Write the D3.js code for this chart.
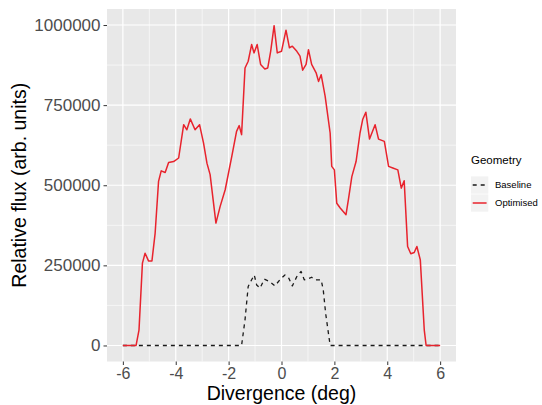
<!DOCTYPE html>
<html>
<head>
<meta charset="utf-8">
<script src="https://cdn.jsdelivr.net/npm/d3@7"></script>
<style>
  body { margin: 0; background: #fff; }
  text { font-family: "Liberation Sans", Arial, sans-serif; }
</style>
</head>
<body>
<svg width="542" height="405"></svg>
<script>
// values (divergence in deg, flux in arb. units)
const optX = [-6.0, -5.5, -5.39, -5.26, -5.16, -5.03, -4.9, -4.78, -4.65, -4.55, -4.4, -4.27, -4.08, -3.89,
  -3.7, -3.58, -3.45, -3.27, -3.1, -2.95, -2.82, -2.7, -2.48, -2.32, -2.13, -1.88, -1.7, -1.6, -1.51,
  -1.38, -1.26, -1.13, -1.04, -0.92, -0.79, -0.63, -0.52, -0.41, -0.28, -0.16, 0.0, 0.17, 0.3, 0.41,
  0.58, 0.7, 0.8, 0.93, 1.02, 1.14, 1.31, 1.4, 1.5, 1.65, 1.84, 1.9, 2.0, 2.09, 2.22, 2.44, 2.53, 2.66,
  2.82, 2.97, 3.07, 3.19, 3.33, 3.54, 3.67, 3.89, 4.05, 4.21, 4.4, 4.53, 4.64, 4.77, 4.89, 5.02, 5.12,
  5.25, 5.4, 5.47, 6.0];
const optY = [0, 0, 48000, 257000, 288000, 264000, 264000, 350000, 512000, 545000, 540000, 571000, 574000, 585000,
  689000, 673000, 707000, 673000, 689000, 632000, 569000, 533000, 382000, 434000, 486000, 590000, 668000, 686000, 658000,
  866000, 887000, 939000, 913000, 939000, 877000, 863000, 866000, 918000, 998000, 913000, 918000, 984000, 929000, 934000,
  918000, 903000, 859000, 877000, 923000, 877000, 851000, 824000, 845000, 778000, 663000, 559000, 548000, 444000, 429000, 408000, 455000, 527000,
  574000, 663000, 705000, 728000, 644000, 689000, 644000, 637000, 559000, 554000, 548000, 491000, 514000, 309000, 286000, 290000, 309000,
  267000, 48000, 0, 0];

const baseX = [-6.0, -1.51, -1.38, -1.26, -1.13, -1.03, -0.94, -0.81, -0.65, -0.44, -0.25, -0.06, 0.13, 0.26,
  0.41, 0.58, 0.74, 0.86, 0.99, 1.14, 1.27, 1.5, 1.58, 1.67, 1.84, 6.0];
const baseY = [0, 0, 80000, 184000, 205000, 220000, 189000, 179000, 207000, 199000, 186000, 205000, 220000, 213000,
  186000, 215000, 231000, 205000, 207000, 213000, 205000, 205000, 173000, 100000, 0, 0];

const xTicks = [-6, -4, -2, 0, 2, 4, 6];
const xMinor = [-5, -3, -1, 1, 3, 5];
const yTicks = [0, 250000, 500000, 750000, 1000000];
const yMinor = [125000, 375000, 625000, 875000];

const series = [
  { name: "Baseline", x: baseX, y: baseY, color: "#1a1a1a", dash: "4,4", width: 1.3 },
  { name: "Optimised", x: optX, y: optY, color: "#e8232d", dash: null, width: 1.5 }
];

const svg = d3.select("svg");
const panel = { left: 107, right: 456, top: 9, bottom: 361.5 };

const x = d3.scaleLinear().domain([-6.6, 6.6]).range([panel.left, panel.right]);
const y = d3.scaleLinear().domain([-50000, 1050000]).range([panel.bottom, panel.top]);

svg.append("rect").attr("width", 542).attr("height", 405).attr("fill", "#fff");

svg.append("rect")
  .attr("x", panel.left).attr("y", panel.top)
  .attr("width", panel.right - panel.left).attr("height", panel.bottom - panel.top)
  .attr("fill", "#e8e8e8");

const grid = svg.append("g");
grid.selectAll(".vminor").data(xMinor).join("line")
  .attr("x1", d => x(d)).attr("x2", d => x(d))
  .attr("y1", panel.top).attr("y2", panel.bottom)
  .attr("stroke", "#fff").attr("stroke-width", 0.6);
grid.selectAll(".hminor").data(yMinor).join("line")
  .attr("y1", d => y(d)).attr("y2", d => y(d))
  .attr("x1", panel.left).attr("x2", panel.right)
  .attr("stroke", "#fff").attr("stroke-width", 0.6);
grid.selectAll(".vmajor").data(xTicks).join("line")
  .attr("x1", d => x(d)).attr("x2", d => x(d))
  .attr("y1", panel.top).attr("y2", panel.bottom)
  .attr("stroke", "#fff").attr("stroke-width", 1.2);
grid.selectAll(".hmajor").data(yTicks).join("line")
  .attr("y1", d => y(d)).attr("y2", d => y(d))
  .attr("x1", panel.left).attr("x2", panel.right)
  .attr("stroke", "#fff").attr("stroke-width", 1.2);

// axes
const xAxis = svg.append("g")
  .attr("transform", `translate(0,${panel.bottom})`)
  .call(d3.axisBottom(x).tickValues(xTicks).tickSize(3.5).tickPadding(2.5).tickFormat(d3.format("d")));
const yAxis = svg.append("g")
  .attr("transform", `translate(${panel.left},0)`)
  .call(d3.axisLeft(y).tickValues(yTicks).tickSize(3.5).tickPadding(3).tickFormat(d3.format("d")));

[xAxis, yAxis].forEach(a => {
  a.select(".domain").remove();
  a.selectAll(".tick line").attr("stroke", "#333").attr("stroke-width", 1);
  a.selectAll(".tick text").attr("fill", "#4d4d4d")
    .style("font-family", "'Liberation Sans', Arial, sans-serif");
});
yAxis.selectAll(".tick text").style("font-size", "17px");
xAxis.selectAll(".tick text").style("font-size", "16px").text(d => d < 0 ? "-" + Math.abs(d) : d);

// lines
const line = d3.line().x(d => x(d[0])).y(d => y(d[1]));
series.forEach(s => {
  const pts = s.x.map((v, i) => [v, s.y[i]]);
  svg.append("path")
    .datum(pts)
    .attr("d", line)
    .attr("fill", "none")
    .attr("stroke", s.color)
    .attr("stroke-width", s.width)
    .attr("stroke-linejoin", "round")
    .attr("stroke-dasharray", s.dash);
});

// axis titles
svg.append("text")
  .attr("x", (panel.left + panel.right) / 2).attr("y", 400)
  .attr("text-anchor", "middle").style("font-size", "19.5px").attr("fill", "#000")
  .text("Divergence (deg)");
svg.append("text")
  .attr("transform", `translate(26,${(panel.top + panel.bottom) / 2}) rotate(-90)`)
  .attr("text-anchor", "middle").style("font-size", "19.5px").attr("fill", "#000")
  .text("Relative flux (arb. units)");

// legend
const lg = svg.append("g").attr("transform", "translate(471,0)");
lg.append("text").attr("x", 0).attr("y", 164).style("font-size", "11.5px").attr("fill", "#000").text("Geometry");
series.forEach((s, i) => {
  const cy = 185 + i * 18;
  lg.append("rect").attr("x", 0).attr("y", cy - 8.6).attr("width", 17.3).attr("height", 17.3).attr("fill", "#f2f2f2");
  lg.append("line").attr("x1", 1.7).attr("x2", 15.6).attr("y1", cy).attr("y2", cy)
    .attr("stroke", s.color).attr("stroke-width", s.width).attr("stroke-dasharray", s.dash);
  lg.append("text").attr("x", 24).attr("y", cy + 3.3).style("font-size", "9.5px").attr("fill", "#000").text(s.name);
});
</script>
</body>
</html>
